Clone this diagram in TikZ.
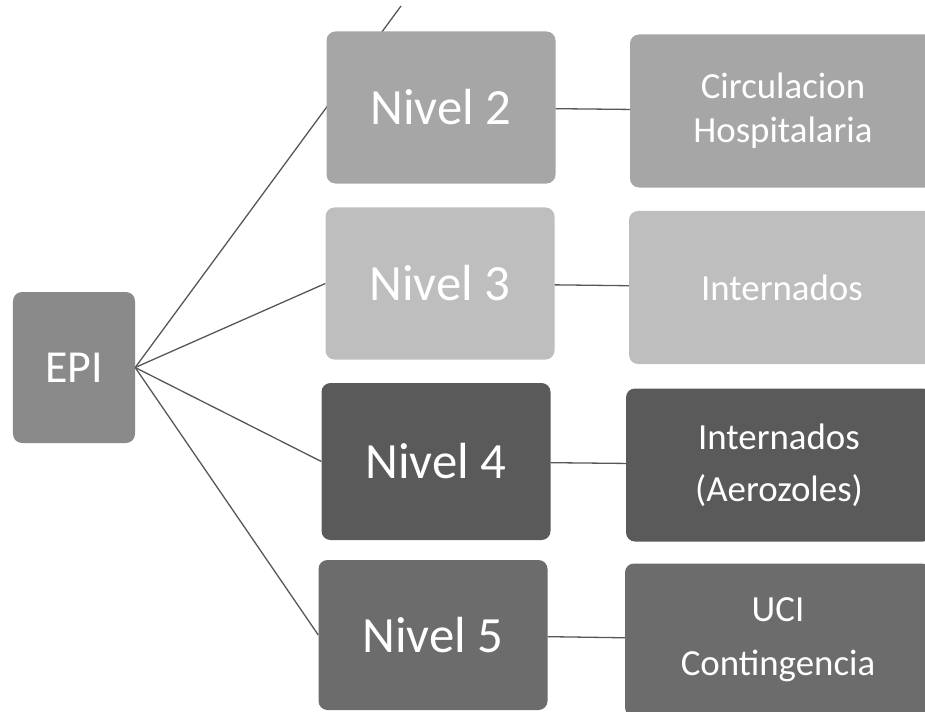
\documentclass[tikz,border=0pt]{standalone}
\usepackage{fontspec}
\setmainfont{Carlito}
\usetikzlibrary{backgrounds}

\definecolor{grisepi}{HTML}{8A8A8A}
\definecolor{grisdos}{HTML}{A6A6A6}
\definecolor{gristres}{HTML}{BEBEBE}
\definecolor{griscuatro}{HTML}{5A5A5A}
\definecolor{griscinco}{HTML}{6C6C6C}
\definecolor{grislinea}{HTML}{575757}

\begin{document}
\begin{tikzpicture}[x=1bp, y=-1bp]
\tikzset{caja/.style={draw=none, fill=#1, rounded corners=9bp, text=white, align=center, inner sep=0pt},
         nivel/.style={caja=#1, minimum width=229bp, minimum height=152bp, font=\fontsize{51}{56}\selectfont},
         detalle/.style={caja=#1, minimum width=306bp, minimum height=153bp, font=\fontsize{37}{44}\selectfont},
         linea/.style={draw=grislinea, line width=1.3bp}}
\clip (0,0) rectangle (925,712);
\node[caja=grisepi, minimum width=122bp, minimum height=151bp, font=\fontsize{46}{50}\selectfont] (EPI) at (74,367.5) {EPI};
\node[nivel=grisdos] (N2) at (441,107.5) {Nivel 2};
\node[nivel=gristres] (N3) at (440,283.5) {Nivel 3};
\node[nivel=griscuatro, minimum height=157bp] (N4) at (436,461.5) {Nivel 4};
\node[nivel=griscinco, minimum height=150bp] (N5) at (433,635) {Nivel 5};
\node[detalle=grisdos] (R2) at (783,111) {Circulacion\\Hospitalaria};
\node[detalle=gristres] (R3) at (782,287.5) {Internados};
\node[detalle=griscuatro, font=\fontsize{37}{52}\selectfont] (R4) at (779,465) {Internados\\(Aerozoles)};
\node[detalle=griscinco, font=\fontsize{37}{54}\selectfont] (R5) at (778,640) {UCI\\Contingencia};
\coordinate (T) at (401,6);
\begin{scope}[on background layer]
\draw[linea] (EPI.east) -- (T);
\end{scope}
\draw[linea] (EPI.east) -- (N3.west);
\draw[linea] (EPI.east) -- (N4.west);
\draw[linea] (EPI.east) -- (N5.west);
\draw[linea] (N2) -- (R2);
\draw[linea] (N3) -- (R3);
\draw[linea] (N4) -- (R4);
\draw[linea] (N5) -- (R5);
\end{tikzpicture}
\end{document}
